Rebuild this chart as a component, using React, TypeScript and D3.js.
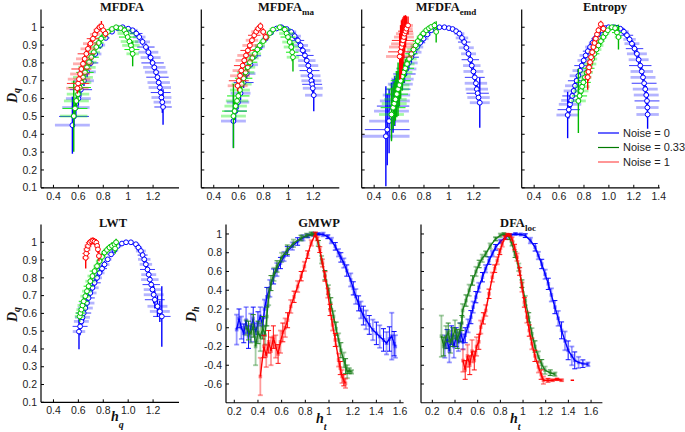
import React from "react";
import * as d3 from "d3";

type P4 = [number, number, number, number];
type P3 = [number, number, number];

// ---------- legend ----------
const seriesNames = ["Noise = 0", "Noise = 0.33", "Noise = 1"];

// ---------- spectrum panels: [h, D, xErr, yErr] ----------
const mfdfaBlue: P4[] = [
  [0.552, 0.451, 0.14, 0.16], [0.565, 0.5, 0.12, 0.06], [0.58, 0.55, 0.11, 0.05], [0.6, 0.6, 0.1, 0.04],
  [0.62, 0.65, 0.09, 0.04], [0.645, 0.7, 0.08, 0.03], [0.67, 0.75, 0.07, 0.03], [0.7, 0.8, 0.06, 0.02],
  [0.735, 0.85, 0.05, 0.02], [0.775, 0.9, 0.04, 0.02], [0.82, 0.94, 0.03, 0.01], [0.87, 0.975, 0.02, 0.01],
  [0.915, 0.995, 0.02, 0.01], [0.956, 1.0, 0.02, 0.01], [1.0, 0.992, 0.03, 0.01], [1.036, 0.983, 0.04, 0.01],
  [1.065, 0.965, 0.05, 0.02], [1.089, 0.945, 0.05, 0.02], [1.115, 0.918, 0.06, 0.02], [1.142, 0.889, 0.07, 0.02],
  [1.162, 0.86, 0.08, 0.03], [1.18, 0.83, 0.08, 0.03], [1.196, 0.8, 0.09, 0.03], [1.21, 0.775, 0.09, 0.03],
  [1.224, 0.748, 0.09, 0.03], [1.235, 0.72, 0.09, 0.03], [1.245, 0.69, 0.09, 0.04], [1.254, 0.662, 0.09, 0.04],
  [1.261, 0.634, 0.08, 0.05], [1.267, 0.606, 0.08, 0.05], [1.274, 0.58, 0.07, 0.06], [1.28, 0.553, 0.07, 0.1],
];
const mfdfaGreen: P4[] = [
  [0.563, 0.502, 0.11, 0.2], [0.573, 0.545, 0.1, 0.05], [0.584, 0.587, 0.1, 0.04], [0.597, 0.625, 0.09, 0.04],
  [0.611, 0.662, 0.09, 0.03], [0.624, 0.69, 0.08, 0.03], [0.637, 0.719, 0.08, 0.03], [0.653, 0.747, 0.07, 0.03],
  [0.669, 0.775, 0.07, 0.03], [0.686, 0.804, 0.06, 0.02], [0.704, 0.832, 0.06, 0.02], [0.724, 0.86, 0.05, 0.02],
  [0.744, 0.889, 0.05, 0.02], [0.763, 0.912, 0.04, 0.02], [0.783, 0.936, 0.04, 0.02], [0.81, 0.957, 0.03, 0.01],
  [0.837, 0.974, 0.03, 0.01], [0.87, 0.99, 0.03, 0.01], [0.903, 1.0, 0.03, 0.01], [0.94, 0.995, 0.05, 0.01],
  [0.97, 0.983, 0.06, 0.02], [0.985, 0.965, 0.07, 0.02], [0.996, 0.945, 0.07, 0.02], [1.01, 0.92, 0.07, 0.03],
  [1.022, 0.898, 0.07, 0.03], [1.03, 0.875, 0.06, 0.04], [1.036, 0.851, 0.05, 0.07],
];
const mfdfaRed: P4[] = [
  [0.592, 0.658, 0.09, 0.03], [0.598, 0.685, 0.09, 0.03], [0.605, 0.709, 0.09, 0.03], [0.614, 0.738, 0.08, 0.03],
  [0.624, 0.766, 0.08, 0.03], [0.637, 0.795, 0.08, 0.03], [0.651, 0.823, 0.07, 0.03], [0.664, 0.851, 0.07, 0.03],
  [0.677, 0.879, 0.06, 0.03], [0.697, 0.908, 0.06, 0.03], [0.717, 0.936, 0.05, 0.02], [0.733, 0.96, 0.04, 0.02],
  [0.749, 0.983, 0.03, 0.02], [0.77, 1.0, 0.02, 0.02], [0.785, 1.005, 0.01, 0.03], [0.8, 0.983, 0.02, 0.02],
  [0.818, 0.964, 0.02, 0.02],
];

const maBlue: P4[] = [
  [0.558, 0.474, 0.1, 0.15], [0.575, 0.53, 0.09, 0.05], [0.595, 0.58, 0.09, 0.04], [0.615, 0.63, 0.08, 0.04],
  [0.64, 0.69, 0.08, 0.03], [0.665, 0.74, 0.07, 0.03], [0.695, 0.79, 0.06, 0.02], [0.73, 0.84, 0.05, 0.02],
  [0.77, 0.89, 0.04, 0.02], [0.815, 0.935, 0.03, 0.01], [0.86, 0.97, 0.02, 0.01], [0.905, 0.993, 0.02, 0.01],
  [0.943, 1.0, 0.02, 0.01], [0.985, 0.99, 0.03, 0.01], [1.022, 0.974, 0.04, 0.01], [1.05, 0.95, 0.05, 0.02],
  [1.076, 0.926, 0.05, 0.02], [1.097, 0.898, 0.06, 0.02], [1.115, 0.87, 0.06, 0.02], [1.132, 0.842, 0.07, 0.03],
  [1.147, 0.813, 0.07, 0.03], [1.159, 0.785, 0.08, 0.03], [1.169, 0.757, 0.08, 0.03], [1.177, 0.728, 0.08, 0.03],
  [1.184, 0.7, 0.08, 0.03], [1.19, 0.68, 0.08, 0.04], [1.195, 0.658, 0.08, 0.04], [1.203, 0.619, 0.07, 0.09],
];
const maGreen: P4[] = [
  [0.558, 0.502, 0.1, 0.18], [0.567, 0.53, 0.1, 0.05], [0.576, 0.558, 0.09, 0.04], [0.587, 0.587, 0.09, 0.04],
  [0.597, 0.615, 0.09, 0.04], [0.61, 0.648, 0.08, 0.03], [0.624, 0.681, 0.08, 0.03], [0.64, 0.714, 0.07, 0.03],
  [0.656, 0.747, 0.07, 0.03], [0.673, 0.776, 0.06, 0.02], [0.69, 0.804, 0.06, 0.02], [0.71, 0.828, 0.05, 0.02],
  [0.73, 0.851, 0.05, 0.02], [0.75, 0.875, 0.04, 0.02], [0.77, 0.898, 0.04, 0.02], [0.797, 0.922, 0.03, 0.01],
  [0.823, 0.945, 0.03, 0.01], [0.85, 0.967, 0.03, 0.01], [0.876, 0.987, 0.03, 0.01], [0.93, 1.0, 0.03, 0.01],
  [0.97, 0.987, 0.05, 0.02], [0.985, 0.965, 0.06, 0.02], [0.996, 0.945, 0.06, 0.02], [1.01, 0.917, 0.06, 0.03],
  [1.022, 0.889, 0.06, 0.03], [1.03, 0.86, 0.05, 0.05], [1.036, 0.832, 0.05, 0.08],
];
const maRed: P4[] = [
  [0.592, 0.672, 0.08, 0.03], [0.601, 0.7, 0.08, 0.03], [0.611, 0.728, 0.08, 0.03], [0.621, 0.757, 0.07, 0.03],
  [0.632, 0.785, 0.07, 0.03], [0.645, 0.814, 0.07, 0.03], [0.659, 0.842, 0.07, 0.03], [0.674, 0.87, 0.06, 0.03],
  [0.69, 0.898, 0.06, 0.03], [0.707, 0.927, 0.05, 0.02], [0.725, 0.955, 0.05, 0.02], [0.741, 0.975, 0.04, 0.02],
  [0.757, 0.992, 0.03, 0.02], [0.775, 1.006, 0.02, 0.02], [0.797, 0.974, 0.02, 0.02], [0.818, 0.945, 0.02, 0.02],
];

const emdBlue: P4[] = [
  [0.494, 0.389, 0.19, 0.28], [0.505, 0.426, 0.18, 0.2], [0.52, 0.474, 0.16, 0.18], [0.539, 0.53, 0.14, 0.16],
  [0.552, 0.558, 0.13, 0.15], [0.566, 0.587, 0.12, 0.14], [0.579, 0.62, 0.11, 0.12], [0.592, 0.653, 0.1, 0.1],
  [0.61, 0.681, 0.1, 0.08], [0.627, 0.709, 0.09, 0.06], [0.643, 0.738, 0.09, 0.05], [0.659, 0.766, 0.08, 0.04],
  [0.679, 0.8, 0.07, 0.03], [0.699, 0.832, 0.06, 0.03], [0.72, 0.86, 0.06, 0.02], [0.744, 0.889, 0.05, 0.02],
  [0.77, 0.913, 0.04, 0.02], [0.797, 0.936, 0.04, 0.02], [0.827, 0.96, 0.03, 0.01], [0.858, 0.983, 0.03, 0.01],
  [0.89, 0.995, 0.02, 0.01], [0.924, 1.0, 0.02, 0.01], [0.964, 1.0, 0.02, 0.01], [1.0, 0.995, 0.02, 0.01],
  [1.03, 0.99, 0.03, 0.01], [1.058, 0.978, 0.04, 0.01], [1.084, 0.964, 0.04, 0.01], [1.105, 0.94, 0.05, 0.02],
  [1.123, 0.917, 0.05, 0.02], [1.14, 0.885, 0.06, 0.02], [1.158, 0.851, 0.06, 0.02], [1.172, 0.818, 0.07, 0.03],
  [1.184, 0.785, 0.07, 0.03], [1.197, 0.752, 0.08, 0.03], [1.208, 0.719, 0.08, 0.03], [1.217, 0.686, 0.09, 0.03],
  [1.224, 0.653, 0.09, 0.03], [1.231, 0.63, 0.09, 0.04], [1.238, 0.606, 0.09, 0.04], [1.248, 0.577, 0.08, 0.14],
];
const emdGreen: P4[] = [
  [0.539, 0.511, 0.1, 0.15], [0.552, 0.549, 0.1, 0.12], [0.561, 0.572, 0.1, 0.12], [0.571, 0.596, 0.09, 0.12],
  [0.582, 0.625, 0.09, 0.13], [0.592, 0.653, 0.09, 0.15], [0.603, 0.676, 0.08, 0.12], [0.613, 0.7, 0.08, 0.1],
  [0.625, 0.724, 0.07, 0.08], [0.637, 0.747, 0.07, 0.06], [0.65, 0.77, 0.07, 0.05], [0.664, 0.794, 0.06, 0.04],
  [0.681, 0.822, 0.06, 0.03], [0.699, 0.851, 0.05, 0.03], [0.716, 0.875, 0.05, 0.02], [0.733, 0.898, 0.04, 0.02],
  [0.75, 0.922, 0.04, 0.02], [0.77, 0.945, 0.03, 0.02], [0.795, 0.965, 0.03, 0.01], [0.818, 0.983, 0.03, 0.01],
  [0.84, 0.994, 0.02, 0.01], [0.858, 1.002, 0.02, 0.01], [0.884, 1.01, 0.02, 0.02], [0.898, 0.974, 0.02, 0.06],
];
const emdRed: P4[] = [
  [0.605, 0.836, 0.11, 0.13], [0.612, 0.862, 0.1, 0.15], [0.619, 0.889, 0.1, 0.15], [0.626, 0.907, 0.09, 0.14],
  [0.632, 0.926, 0.09, 0.13], [0.639, 0.945, 0.08, 0.12], [0.645, 0.964, 0.07, 0.1], [0.652, 0.978, 0.06, 0.09],
  [0.659, 0.992, 0.05, 0.07], [0.672, 1.01, 0.04, 0.05],
];

const entBlue: P4[] = [
  [0.669, 0.508, 0.09, 0.13], [0.678, 0.538, 0.09, 0.05], [0.688, 0.568, 0.09, 0.05], [0.697, 0.59, 0.08, 0.04],
  [0.706, 0.615, 0.08, 0.04], [0.717, 0.643, 0.08, 0.04], [0.728, 0.672, 0.08, 0.04], [0.741, 0.7, 0.07, 0.03],
  [0.755, 0.728, 0.07, 0.03], [0.768, 0.757, 0.06, 0.03], [0.782, 0.785, 0.06, 0.03], [0.798, 0.814, 0.05, 0.02],
  [0.814, 0.842, 0.05, 0.02], [0.831, 0.866, 0.04, 0.02], [0.849, 0.889, 0.04, 0.02], [0.869, 0.913, 0.03, 0.02],
  [0.889, 0.936, 0.03, 0.02], [0.915, 0.96, 0.03, 0.01], [0.943, 0.983, 0.03, 0.01], [0.97, 0.995, 0.02, 0.01],
  [0.997, 1.0, 0.02, 0.01], [1.037, 1.0, 0.02, 0.01], [1.065, 0.997, 0.03, 0.01], [1.091, 0.992, 0.03, 0.01],
  [1.12, 0.975, 0.04, 0.02], [1.145, 0.955, 0.05, 0.02], [1.166, 0.932, 0.05, 0.02], [1.185, 0.908, 0.06, 0.02],
  [1.206, 0.88, 0.07, 0.03], [1.225, 0.851, 0.08, 0.03], [1.239, 0.818, 0.08, 0.03], [1.252, 0.785, 0.09, 0.03],
  [1.264, 0.752, 0.09, 0.03], [1.274, 0.719, 0.1, 0.03], [1.283, 0.686, 0.1, 0.04], [1.292, 0.653, 0.1, 0.04],
  [1.3, 0.62, 0.1, 0.05], [1.306, 0.587, 0.1, 0.05], [1.309, 0.55, 0.09, 0.06], [1.311, 0.511, 0.09, 0.08],
];
const entGreen: P4[] = [
  [0.755, 0.587, 0.06, 0.18], [0.765, 0.615, 0.06, 0.04], [0.776, 0.643, 0.06, 0.04], [0.785, 0.667, 0.06, 0.04],
  [0.795, 0.691, 0.06, 0.04], [0.808, 0.719, 0.05, 0.03], [0.822, 0.747, 0.05, 0.03], [0.835, 0.77, 0.05, 0.03],
  [0.849, 0.794, 0.05, 0.03], [0.866, 0.822, 0.04, 0.02], [0.884, 0.851, 0.04, 0.02], [0.9, 0.875, 0.04, 0.02],
  [0.916, 0.898, 0.04, 0.02], [0.936, 0.922, 0.03, 0.02], [0.956, 0.945, 0.03, 0.02], [0.974, 0.965, 0.03, 0.01],
  [0.991, 0.983, 0.03, 0.01], [1.024, 1.0, 0.03, 0.01], [1.05, 0.995, 0.04, 0.02], [1.065, 0.97, 0.04, 0.03],
  [1.077, 0.945, 0.03, 0.07],
];
const entRed: P4[] = [
  [0.83, 0.72, 0.03, 0.07], [0.836, 0.75, 0.03, 0.05], [0.841, 0.775, 0.03, 0.04], [0.849, 0.804, 0.03, 0.03],
  [0.857, 0.832, 0.03, 0.03], [0.866, 0.86, 0.03, 0.03], [0.876, 0.889, 0.03, 0.03], [0.885, 0.912, 0.03, 0.02],
  [0.895, 0.936, 0.03, 0.02], [0.905, 0.96, 0.02, 0.02], [0.916, 0.983, 0.02, 0.02], [0.935, 1.017, 0.02, 0.02],
  [0.956, 0.992, 0.02, 0.02],
];

const lwtBlue: P4[] = [
  [0.605, 0.498, 0.05, 0.1], [0.614, 0.527, 0.06, 0.05], [0.624, 0.555, 0.06, 0.04], [0.633, 0.578, 0.06, 0.04],
  [0.643, 0.602, 0.06, 0.04], [0.656, 0.63, 0.06, 0.03], [0.669, 0.658, 0.06, 0.03], [0.682, 0.687, 0.05, 0.03],
  [0.696, 0.715, 0.05, 0.03], [0.713, 0.744, 0.05, 0.02], [0.73, 0.772, 0.05, 0.02], [0.75, 0.8, 0.04, 0.02],
  [0.77, 0.828, 0.04, 0.02], [0.79, 0.852, 0.04, 0.02], [0.81, 0.875, 0.04, 0.02], [0.836, 0.904, 0.03, 0.01],
  [0.863, 0.932, 0.03, 0.01], [0.89, 0.956, 0.03, 0.01], [0.916, 0.979, 0.03, 0.01], [0.95, 0.993, 0.02, 0.01],
  [0.983, 1.0, 0.02, 0.01], [1.022, 1.0, 0.02, 0.01], [1.062, 0.989, 0.03, 0.01], [1.082, 0.97, 0.03, 0.02],
  [1.102, 0.951, 0.04, 0.02], [1.116, 0.928, 0.04, 0.02], [1.129, 0.904, 0.05, 0.02], [1.142, 0.876, 0.05, 0.03],
  [1.155, 0.847, 0.06, 0.03], [1.165, 0.818, 0.06, 0.03], [1.174, 0.79, 0.07, 0.03], [1.185, 0.762, 0.07, 0.04],
  [1.195, 0.734, 0.07, 0.04], [1.205, 0.705, 0.08, 0.05], [1.214, 0.677, 0.08, 0.05], [1.235, 0.64, 0.08, 0.06],
  [1.254, 0.611, 0.08, 0.06], [1.27, 0.583, 0.07, 0.17],
];
const lwtGreen: P4[] = [
  [0.611, 0.583, 0.04, 0.03], [0.617, 0.602, 0.04, 0.03], [0.624, 0.621, 0.04, 0.03], [0.633, 0.645, 0.04, 0.03],
  [0.643, 0.668, 0.04, 0.03], [0.656, 0.697, 0.04, 0.02], [0.669, 0.725, 0.04, 0.02], [0.682, 0.753, 0.04, 0.02],
  [0.696, 0.781, 0.04, 0.02], [0.713, 0.81, 0.04, 0.02], [0.73, 0.838, 0.04, 0.02], [0.75, 0.866, 0.03, 0.02],
  [0.77, 0.894, 0.03, 0.02], [0.79, 0.918, 0.03, 0.02], [0.81, 0.942, 0.03, 0.02], [0.83, 0.957, 0.03, 0.02],
  [0.85, 0.97, 0.03, 0.02], [0.87, 0.98, 0.03, 0.02], [0.89, 0.989, 0.03, 0.02], [0.903, 1.0, 0.02, 0.02],
  [0.895, 0.965, 0.02, 0.03],
];
const lwtRed: P4[] = [
  [0.659, 0.913, 0.03, 0.06], [0.663, 0.937, 0.03, 0.04], [0.669, 0.96, 0.03, 0.03], [0.678, 0.98, 0.03, 0.02],
  [0.69, 0.998, 0.03, 0.02], [0.703, 1.005, 0.02, 0.02], [0.717, 1.008, 0.02, 0.02], [0.73, 1.004, 0.02, 0.02],
  [0.744, 0.998, 0.02, 0.02], [0.751, 0.98, 0.02, 0.02], [0.757, 0.96, 0.02, 0.02], [0.765, 0.923, 0.02, 0.03],
];

// ---------- local spectra panels: [h, D, yErr] ----------
const gmwpBlue: P3[] = [
  [0.22, -0.02, 0.16], [0.24, 0.1, 0.1], [0.26, 0.0, 0.12], [0.28, -0.06, 0.1], [0.3, 0.08, 0.14], [0.32, -0.1, 0.12],
  [0.34, 0.0, 0.15], [0.36, 0.1, 0.12], [0.38, -0.05, 0.1], [0.4, 0.05, 0.12], [0.42, 0.12, 0.1], [0.44, 0.02, 0.1],
  [0.455, 0.2, 0.1], [0.475, 0.33, 0.1], [0.5, 0.42, 0.09], [0.532, 0.547, 0.08], [0.56, 0.62, 0.07], [0.59, 0.69, 0.06],
  [0.62, 0.76, 0.05], [0.648, 0.815, 0.05], [0.69, 0.87, 0.04], [0.735, 0.92, 0.04], [0.78, 0.96, 0.03], [0.82, 0.98, 0.02],
  [0.87, 0.995, 0.02], [0.91, 1.0, 0.01], [0.95, 0.995, 0.02], [0.99, 0.97, 0.02], [1.02, 0.93, 0.03], [1.053, 0.868, 0.04],
  [1.08, 0.8, 0.04], [1.1, 0.75, 0.05], [1.125, 0.69, 0.05], [1.15, 0.61, 0.06], [1.183, 0.51, 0.07], [1.205, 0.42, 0.07],
  [1.226, 0.333, 0.08], [1.25, 0.26, 0.08], [1.269, 0.19, 0.09], [1.29, 0.13, 0.1], [1.313, 0.084, 0.1], [1.34, 0.03, 0.1],
  [1.37, -0.023, 0.11], [1.4, -0.06, 0.12], [1.428, -0.094, 0.12], [1.46, -0.13, 0.12], [1.486, -0.165, 0.12],
  [1.51, -0.12, 0.13], [1.53, -0.09, 0.25], [1.55, -0.17, 0.13], [1.56, -0.2, 0.12],
];
const gmwpGreen: P3[] = [
  [0.3, 0.0, 0.08], [0.32, -0.03, 0.1], [0.34, -0.06, 0.1], [0.36, 0.02, 0.12], [0.38, -0.2, 0.2], [0.4, -0.05, 0.12],
  [0.42, -0.1, 0.15], [0.44, 0.0, 0.12], [0.46, -0.08, 0.1], [0.475, 0.12, 0.1], [0.49, 0.33, 0.09], [0.51, 0.476, 0.08],
  [0.535, 0.57, 0.07], [0.561, 0.654, 0.06], [0.6, 0.75, 0.05], [0.648, 0.832, 0.05], [0.7, 0.9, 0.04], [0.764, 0.957, 0.03],
  [0.81, 0.985, 0.02], [0.85, 1.0, 0.02], [0.88, 1.0, 0.01], [0.91, 0.9, 0.03], [0.937, 0.726, 0.04], [0.965, 0.56, 0.05],
  [0.995, 0.405, 0.05], [1.015, 0.26, 0.06], [1.038, 0.12, 0.06], [1.06, -0.01, 0.07], [1.081, -0.13, 0.07], [1.1, -0.24, 0.08],
  [1.125, -0.344, 0.08], [1.14, -0.41, 0.08], [1.154, -0.468, 0.07], [1.17, -0.46, 0.03], [1.19, -0.47, 0.02],
];
const gmwpRed: P3[] = [
  [0.42, -0.52, 0.2], [0.45, -0.2, 0.12], [0.47, -0.3, 0.12], [0.49, -0.15, 0.12], [0.51, -0.25, 0.15], [0.53, -0.1, 0.12],
  [0.55, -0.2, 0.12], [0.57, -0.28, 0.1], [0.59, -0.15, 0.12], [0.61, -0.05, 0.1], [0.63, 0.0, 0.1], [0.65, 0.08, 0.08],
  [0.677, 0.227, 0.07], [0.705, 0.33, 0.06], [0.735, 0.44, 0.06], [0.765, 0.55, 0.05], [0.792, 0.654, 0.05], [0.82, 0.78, 0.04],
  [0.85, 0.904, 0.03], [0.885, 1.0, 0.02], [0.9, 0.95, 0.02], [0.922, 0.833, 0.03], [0.945, 0.69, 0.04], [0.966, 0.547, 0.05],
  [0.99, 0.37, 0.05], [1.009, 0.19, 0.06], [1.03, 0.03, 0.06], [1.053, -0.13, 0.07], [1.081, -0.344, 0.07],
  [1.095, -0.43, 0.07], [1.11, -0.52, 0.07], [1.125, -0.56, 0.06], [1.139, -0.593, 0.05],
];

const locBlue: P3[] = [
  [0.31, -0.2, 0.12], [0.33, -0.12, 0.1], [0.35, -0.25, 0.12], [0.37, -0.08, 0.1], [0.39, -0.2, 0.12], [0.41, -0.1, 0.1],
  [0.43, -0.15, 0.1], [0.45, -0.05, 0.1], [0.47, -0.15, 0.08], [0.49, -0.08, 0.08], [0.515, 0.02, 0.07], [0.54, 0.113, 0.07],
  [0.56, 0.22, 0.06], [0.584, 0.326, 0.06], [0.61, 0.43, 0.05], [0.642, 0.539, 0.05], [0.67, 0.63, 0.04], [0.7, 0.716, 0.04],
  [0.73, 0.79, 0.03], [0.758, 0.858, 0.03], [0.8, 0.92, 0.02], [0.845, 0.965, 0.02], [0.89, 0.99, 0.01], [0.933, 1.0, 0.01],
  [0.98, 0.995, 0.01], [1.02, 0.982, 0.02], [1.065, 0.93, 0.03], [1.107, 0.858, 0.04], [1.135, 0.77, 0.04], [1.165, 0.68, 0.05],
  [1.195, 0.57, 0.05], [1.223, 0.468, 0.06], [1.25, 0.35, 0.07], [1.281, 0.22, 0.07], [1.31, 0.1, 0.08], [1.34, -0.028, 0.09],
  [1.37, -0.14, 0.1], [1.398, -0.241, 0.1], [1.43, -0.3, 0.1], [1.456, -0.348, 0.09], [1.49, -0.37, 0.06], [1.528, -0.383, 0.04],
  [1.572, -0.39, 0.02],
];
const locGreen: P3[] = [
  [0.28, -0.09, 0.22], [0.3, -0.2, 0.1], [0.32, -0.1, 0.12], [0.34, -0.05, 0.1], [0.36, -0.15, 0.12], [0.38, -0.1, 0.1],
  [0.4, -0.02, 0.1], [0.42, -0.12, 0.1], [0.44, -0.05, 0.1], [0.46, 0.05, 0.08], [0.467, 0.184, 0.07], [0.497, 0.29, 0.06],
  [0.525, 0.4, 0.06], [0.555, 0.504, 0.05], [0.585, 0.6, 0.05], [0.613, 0.68, 0.04], [0.64, 0.74, 0.04], [0.671, 0.787, 0.03],
  [0.71, 0.87, 0.03], [0.758, 0.947, 0.02], [0.8, 0.985, 0.02], [0.831, 1.0, 0.01], [0.86, 0.99, 0.01], [0.88, 0.96, 0.02],
  [0.903, 0.894, 0.02], [0.93, 0.78, 0.03], [0.962, 0.645, 0.04], [0.99, 0.47, 0.04], [1.02, 0.29, 0.05], [1.05, 0.11, 0.05],
  [1.078, -0.064, 0.06], [1.105, -0.2, 0.06], [1.136, -0.312, 0.06], [1.165, -0.39, 0.05], [1.194, -0.454, 0.04],
  [1.24, -0.48, 0.03], [1.281, -0.496, 0.02],
];
const locRed: P3[] = [
  [0.47, -0.35, 0.12], [0.49, -0.45, 0.1], [0.51, -0.3, 0.12], [0.53, -0.4, 0.1], [0.55, -0.25, 0.12], [0.57, -0.35, 0.1],
  [0.59, -0.2, 0.1], [0.61, -0.15, 0.08], [0.627, 0.007, 0.07], [0.65, 0.1, 0.06], [0.671, 0.184, 0.06], [0.7, 0.362, 0.05],
  [0.729, 0.539, 0.05], [0.75, 0.63, 0.04], [0.773, 0.716, 0.04], [0.795, 0.81, 0.03], [0.816, 0.894, 0.03], [0.84, 0.96, 0.02],
  [0.86, 0.993, 0.01], [0.88, 0.99, 0.01], [0.903, 0.947, 0.02], [0.925, 0.86, 0.03], [0.947, 0.752, 0.04], [0.97, 0.6, 0.04],
  [0.991, 0.433, 0.05], [1.012, 0.27, 0.05], [1.034, 0.113, 0.06], [1.055, -0.03, 0.06], [1.078, -0.17, 0.06], [1.105, -0.3, 0.06],
  [1.136, -0.418, 0.06], [1.16, -0.5, 0.05], [1.18, -0.56, 0.04], [1.22, -0.56, 0.02], [1.26, -0.56, 0.01], [1.3, -0.55, 0.01],
  [1.34, -0.56, 0.01],
];
const locRedTail: P3[] = [[1.42, -0.56, 0.0], [1.45, -0.56, 0.0]];

// ---------- ticks ----------
const specYTicks = [0.1, 0.2, 0.3, 0.4, 0.5, 0.6, 0.7, 0.8, 0.9, 1];
const specYLabels = ["0.1", "0.2", "0.3", "0.4", "0.5", "0.6", "0.7", "0.8", "0.9", "1"];
const specXTicks = [0.4, 0.6, 0.8, 1, 1.2];
const specXLabels = ["0.4", "0.6", "0.8", "1", "1.2"];
const lwtXLabels = ["0.4", "0.6", "0.8", "1.0", "1.2"];
const entXTicks = [0.4, 0.6, 0.8, 1, 1.2, 1.4];
const entXLabels = ["0.4", "0.6", "0.8", "1.0", "1.2", "1.4"];
const locYTicks = [-0.6, -0.4, -0.2, 0, 0.2, 0.4, 0.6, 0.8, 1];
const locYLabels = ["-0.6", "-0.4", "-0.2", "0", "0.2", "0.4", "0.6", "0.8", "1"];
const locXTicks = [0.2, 0.4, 0.6, 0.8, 1, 1.2, 1.4, 1.6];
const locXLabels = ["0.2", "0.4", "0.6", "0.8", "1", "1.2", "1.4", "1.6"];

const SANS = "'Liberation Sans', Arial, Helvetica, sans-serif";
const SERIF = "'Liberation Serif', 'Times New Roman', Times, serif";

const TOP_COL = [
  { v: "#0000ff", light: "#3030ff", c: "#0000ff" },
  { v: "#00b800", light: "#00ee00", c: "#00c800" },
  { v: "#ff0000", light: "#ff2020", c: "#ff0000" },
];
const BOT_COL = ["#0000ff", "#1a7f1a", "#ff0000"];

type SpecProps = {
  x0: number; yr: [number, number]; series: P4[][]; xt: number[]; xl: string[]; yl: boolean;
};

function Spectrum({ x0, yr, series, xt, xl, yl }: SpecProps) {
  const x = d3.scaleLinear().domain([0.3, 1.4]).range([x0, x0 + 137]);
  const y = d3.scaleLinear().domain([0.1, 1.1]).range(yr);
  const yb = y(0.1);
  return (
    <g>
      {series.map((s, si) => (
        <g key={si}>
          {s.map((p, i) => {
            const dark = i % 3 === 1;
            return (
              <line key={"h" + i} x1={x(p[0] - p[2])} x2={x(p[0] + p[2])} y1={y(p[1])} y2={y(p[1])}
                stroke={TOP_COL[si].light} strokeOpacity={dark ? 0.95 : 0.36} strokeWidth={dark ? 1 : 2.8} />
            );
          })}
          {s.map((p, i) => (
            <line key={"v" + i} x1={x(p[0])} x2={x(p[0])} y1={y(p[1] - p[3])} y2={y(p[1] + p[3])}
              stroke={TOP_COL[si].v} strokeWidth={1.4} />
          ))}
          {s.map((p, i) => (
            <circle key={"c" + i} cx={x(p[0])} cy={y(p[1])} r={2.4} fill="#fff" stroke={TOP_COL[si].c} strokeWidth={1} />
          ))}
        </g>
      ))}
      <line x1={x0} x2={x0} y1={yr[1]} y2={yb} stroke="#000" strokeWidth={1.2} />
      <line x1={x0} x2={x0 + 138} y1={yb} y2={yb} stroke="#000" strokeWidth={1.2} />
      {specYTicks.map((t, i) => (
        <g key={"yt" + i}>
          <line x1={x0} x2={x0 + 3} y1={y(t)} y2={y(t)} stroke="#000" />
          {yl && (
            <text x={x0 - 4} y={y(t)} dy="0.35em" textAnchor="end" fontSize={10.5} fontFamily={SANS} fill="#222">
              {specYLabels[i]}
            </text>
          )}
        </g>
      ))}
      {xt.map((t, i) => (
        <g key={"xt" + i}>
          <line x1={x(t)} x2={x(t)} y1={yb} y2={yb - 3} stroke="#000" />
          <text x={x(t)} y={yb + 12} textAnchor="middle" fontSize={10.5} fontFamily={SANS} fill="#222">{xl[i]}</text>
        </g>
      ))}
    </g>
  );
}

type LocProps = { x0: number; x1: number; dom: [number, number]; series: P3[][]; tail?: P3[]; yl: boolean };

function LocalSpec({ x0, x1, dom, series, tail, yl }: LocProps) {
  const x = d3.scaleLinear().domain(dom).range([x0, x1]);
  const y = d3.scaleLinear().domain([-0.8, 1.1]).range([402.75, 224.6]);
  const yb = y(-0.8);
  const line = d3.line<P3>().x((d) => x(d[0])).y((d) => y(d[1]));
  return (
    <g>
      {series.map((s, si) => (
        <g key={si}>
          {s.map((p, i) => {
            const dark = i % 2 === 1;
            const col = BOT_COL[si];
            const xx = x(p[0]);
            const ya = y(p[1] - p[2]);
            const yc = y(p[1] + p[2]);
            return (
              <g key={i} stroke={col} strokeOpacity={dark ? 0.95 : 0.4} strokeWidth={dark ? 1 : 1.8}>
                <line x1={xx} x2={xx} y1={ya} y2={yc} />
                <line x1={xx - 2.5} x2={xx + 2.5} y1={ya} y2={ya} />
                <line x1={xx - 2.5} x2={xx + 2.5} y1={yc} y2={yc} />
              </g>
            );
          })}
          <path d={line(s) || ""} fill="none" stroke={BOT_COL[si]} strokeWidth={1.4} />
          {s.map((p, i) => (
            <rect key={"m" + i} x={x(p[0]) - 1.8} y={y(p[1]) - 1.8} width={3.6} height={3.6} fill={BOT_COL[si]} fillOpacity={0.45} />
          ))}
        </g>
      ))}
      {tail && <path d={line(tail) || ""} fill="none" stroke={BOT_COL[2]} strokeWidth={1.5} />}
      <line x1={x0} x2={x0} y1={y(1.1)} y2={yb} stroke="#000" strokeWidth={1.2} />
      <line x1={x0} x2={x1} y1={yb} y2={yb} stroke="#000" strokeWidth={1.2} />
      {locYTicks.map((t, i) => (
        <g key={"yt" + i}>
          <line x1={x0} x2={x0 + 3} y1={y(t)} y2={y(t)} stroke="#000" />
          {yl && (
            <text x={x0 - 4} y={y(t)} dy="0.35em" textAnchor="end" fontSize={10.5} fontFamily={SANS} fill="#222">
              {locYLabels[i]}
            </text>
          )}
        </g>
      ))}
      {locXTicks.map((t, i) => (
        <g key={"xt" + i}>
          <line x1={x(t)} x2={x(t)} y1={yb} y2={yb - 3} stroke="#000" />
          <text x={x(t)} y={yb + 12} textAnchor="middle" fontSize={10.5} fontFamily={SANS} fill="#222">{locXLabels[i]}</text>
        </g>
      ))}
    </g>
  );
}

function Title({ x, y, main, sub }: { x: number; y: number; main: string; sub?: string }) {
  return (
    <text x={x} y={y} textAnchor="middle" fontFamily={SERIF} fontWeight="bold" fontSize={12.5} fill="#111">
      {main}
      {sub && <tspan dy={4} fontSize={9}>{sub}</tspan>}
    </text>
  );
}

function YLab({ x, y, sub }: { x: number; y: number; sub: string }) {
  return (
    <text transform={`translate(${x},${y}) rotate(-90)`} fontFamily={SERIF} fontWeight="bold" fontStyle="italic" fontSize={14} fill="#111">
      D<tspan dy={3} fontSize={10}>{sub}</tspan>
    </text>
  );
}

function XLab({ x, y, sub }: { x: number; y: number; sub: string }) {
  return (
    <text x={x} y={y} fontFamily={SERIF} fontWeight="bold" fontStyle="italic" fontSize={14} fill="#111">
      h<tspan dy={7} fontSize={10}>{sub}</tspan>
    </text>
  );
}

export default function App() {
  const TOP: [number, number] = [187.8, 9.4];
  const BOT: [number, number] = [402.3, 224.5];
  return (
    <svg width={685} height={432} style={{ position: "absolute", left: 0, top: 0 }} xmlns="http://www.w3.org/2000/svg">
      <rect width={685} height={432} fill="#fff" />
      <Spectrum x0={41} yr={TOP} series={[mfdfaBlue, mfdfaGreen, mfdfaRed]} xt={specXTicks} xl={specXLabels} yl={true} />
      <Spectrum x0={201.3} yr={TOP} series={[maBlue, maGreen, maRed]} xt={specXTicks} xl={specXLabels} yl={false} />
      <Spectrum x0={361.7} yr={TOP} series={[emdBlue, emdGreen, emdRed]} xt={specXTicks} xl={specXLabels} yl={false} />
      <Spectrum x0={521.7} yr={TOP} series={[entBlue, entGreen, entRed]} xt={entXTicks} xl={entXLabels} yl={false} />
      <Spectrum x0={41} yr={BOT} series={[lwtBlue, lwtGreen, lwtRed]} xt={specXTicks} xl={lwtXLabels} yl={true} />
      <LocalSpec x0={226} x1={403.6} dom={[0.13, 1.63]} series={[gmwpBlue, gmwpGreen, gmwpRed]} yl={true} />
      <LocalSpec x0={421} x1={602.4} dom={[0.1, 1.7]} series={[locBlue, locGreen, locRed]} tail={locRedTail} yl={false} />

      <Title x={122} y={11} main="MFDFA" />
      <Title x={286} y={11} main="MFDFA" sub="ma" />
      <Title x={446} y={11} main="MFDFA" sub="emd" />
      <Title x={605} y={11} main="Entropy" />
      <Title x={113} y={227} main="LWT" />
      <Title x={319} y={227} main="GMWP" />
      <Title x={518} y={227} main="DFA" sub="loc" />

      <YLab x={17} y={103} sub="q" />
      <YLab x={17} y={322} sub="q" />
      <YLab x={196} y={322} sub="h" />
      <XLab x={111} y={421} sub="q" />
      <XLab x={316} y={423} sub="t" />
      <XLab x={510} y={423} sub="t" />

      {seriesNames.map((n, i) => (
        <g key={n}>
          <line x1={598} x2={619} y1={133 + i * 14.5} y2={133 + i * 14.5} stroke={["#0000ff", "#007a00", "#ff5050"][i]} strokeWidth={1.2} />
          <text x={623} y={133 + i * 14.5} dy="0.35em" fontFamily={SANS} fontSize={11} fill="#222">{n}</text>
        </g>
      ))}
    </svg>
  );
}
